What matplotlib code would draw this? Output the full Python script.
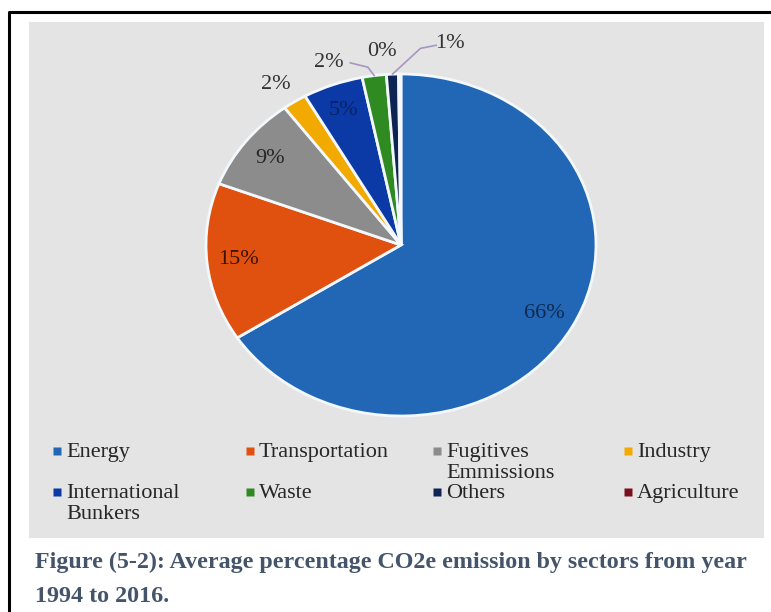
import numpy as np
import matplotlib.pyplot as plt
from matplotlib.patches import Rectangle

plt.rcParams['font.family'] = ['Liberation Serif', 'DejaVu Serif']

# Sector shares (%), clockwise from 12 o'clock
sectors = ['Energy', 'Transportation', 'Fugitives\nEmmissions', 'Industry',
           'International\nBunkers', 'Waste', 'Others', 'Agriculture']
shares = [66, 15, 9, 2, 5, 2, 1, 0.2]
colors = ['#2167b5', '#e0500f', '#8c8c8c', '#f2a900',
          '#0b3aa6', '#2f8a21', '#0e2554', '#7b0f1f']
pct_colors = ['#10294f', '#3d1200', '#262626', '#333333',
              '#0a2266', '#333333', '#333333', '#333333']
caption = ['Figure (5-2): Average percentage CO2e emission by sectors from year',
           '1994 to 2016.']

W, H = 771, 612
fig = plt.figure(figsize=(W / 100, H / 100), dpi=100)
fig.patch.set_facecolor('white')

# page layer in pixel coords (frame, grey chart area, legend, caption)
bg = fig.add_axes([0, 0, 1, 1], zorder=0)
bg.set_xlim(0, W)
bg.set_ylim(H, 0)
bg.axis('off')
bg.plot([9, 9, W + 5], [H + 5, 12, 12], color='black', lw=2.2)
bg.add_patch(Rectangle((29, 22), 764 - 29, 538 - 22, color='#e4e4e4', lw=0))

# pie - the original picture is stretched sideways, so keep it elliptic
cx, cy, rx, ry = 401, 245, 195, 171
ax = fig.add_axes([(cx - rx) / W, (H - cy - ry) / H, 2 * rx / W, 2 * ry / H], zorder=1)
wedges, texts, autotexts = ax.pie(shares, colors=colors, startangle=90, counterclock=False,
                                  autopct='%.0f%%', pctdistance=0.84,
                                  wedgeprops=dict(edgecolor='#f3f8fc', linewidth=2),
                                  textprops=dict(fontsize=16))
ax.set_aspect('auto')
ax.set_xlim(-1, 1)
ax.set_ylim(-1, 1)
ax.axis('off')
for w in wedges:
    w.set_clip_on(False)
for t, c in zip(autotexts, pct_colors):
    t.set_color(c)

# small slices get their labels outside
outside = {3: (-0.64, 0.94), 5: (-0.37, 1.07), 7: (-0.10, 1.13), 6: (0.25, 1.18)}
for i, pos in outside.items():
    autotexts[i].set_position(pos)


def edge_point(w):
    t = np.deg2rad((w.theta1 + w.theta2) / 2)
    return np.cos(t) * w.r, np.sin(t) * w.r


leaders = {5: [(-0.26, 1.065), (-0.17, 1.04)], 6: [(0.18, 1.168), (0.10, 1.15)]}
for i, pts in leaders.items():
    ex, ey = edge_point(wedges[i])
    xs = [p[0] for p in pts] + [ex]
    ys = [p[1] for p in pts] + [ey]
    ax.plot(xs, ys, color='#a796c2', lw=1.2, clip_on=False)

# legend, 4 columns x 2 rows (first line of each label level with its marker)
col_x = [57, 250, 437, 628]
row_y = [451, 492]
for i, (name, c) in enumerate(zip(sectors, colors)):
    x, y = col_x[i % 4], row_y[i // 4]
    bg.plot(x, y, 's', ms=5.5, color=c, mec='none')
    bg.text(x + 9, y - 8, name, fontsize=16, color='#262626', va='top',
            linespacing=1.15)

# caption
bg.text(35, 568, caption[0], fontsize=17.3, weight='bold', color='#44546a', va='baseline')
bg.text(35, 602, caption[1], fontsize=17.3, weight='bold', color='#44546a', va='baseline')

fig.savefig('out.png', dpi=100)
